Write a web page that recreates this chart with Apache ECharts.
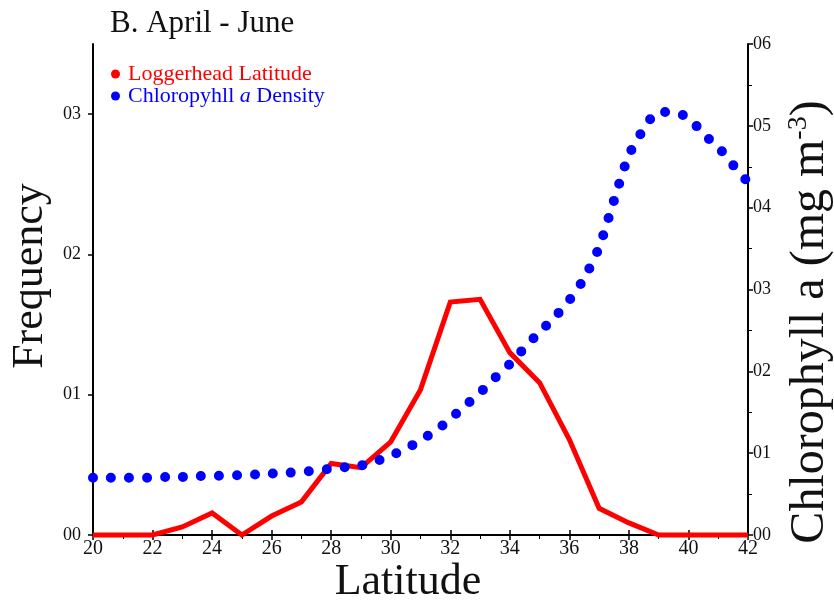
<!DOCTYPE html>
<html>
<head>
<meta charset="utf-8">
<script src="https://cdn.jsdelivr.net/npm/echarts@6/dist/echarts.min.js"></script>
<style>
  html, body { margin: 0; padding: 0; background: #fff; }
  #chart { width: 834px; height: 606px; }
</style>
</head>
<body>
<div id="chart"></div>
<script>
// Loggerhead sightings by latitude (frequency), one value per degree 20..42
const loggerLat = [20, 21, 22, 23, 24, 25, 26, 27, 28, 29, 30, 31, 32, 33, 34, 35, 36, 37, 38, 39, 40, 41, 42];
const loggerFreq = [0, 0, 0, 0.0057, 0.0157, 0, 0.0135, 0.0236, 0.051, 0.048, 0.0664, 0.1036, 0.166, 0.168, 0.130, 0.1086, 0.068, 0.019, 0.0086, 0, 0, 0, 0];

// Chlorophyll a density (mg m^-3), every half degree 20..42
const chlLat = [20, 20.5, 21, 21.5, 22, 22.5, 23, 23.5, 24, 24.5, 25, 25.5, 26, 26.5, 27, 27.5, 28, 28.5, 29, 29.5, 30, 30.5, 31, 31.5, 32, 32.5, 33, 33.5, 34, 34.5, 35, 35.5, 36, 36.5, 37, 37.5, 38, 38.5, 39, 39.5, 40, 40.5, 41, 41.5, 42];
const chlDensity = [0.0070, 0.0070, 0.0070, 0.0070, 0.0070, 0.0071, 0.0071, 0.0072, 0.0072, 0.0073, 0.0073, 0.0074, 0.0075, 0.0076, 0.0077, 0.0079, 0.0081, 0.0083, 0.0085, 0.0090, 0.0097, 0.0105, 0.0116, 0.0127, 0.0142, 0.0158, 0.0174, 0.0192, 0.0209, 0.0229, 0.0248, 0.0266, 0.0287, 0.0314, 0.0352, 0.0409, 0.0464, 0.0496, 0.0517, 0.0516, 0.0510, 0.0490, 0.0474, 0.0452, 0.0431];

// Tick labels as printed on the two value axes
const freqTickLabels = ['00', '01', '02', '03'];
const chlTickLabels = ['00', '01', '02', '03', '04', '05', '06'];

const serif = '"Liberation Serif", "DejaVu Serif", serif';
const ink = '#111';
const nameSize = 44;

const pair = (xs, ys) => xs.map((x, i) => [x, ys[i]]);

const chart = echarts.init(document.getElementById('chart'), null, { renderer: 'canvas' });

const axisLine = { show: true, lineStyle: { color: '#000', width: 2 } };

chart.setOption({
  animation: false,
  backgroundColor: '#ffffff',
  title: {
    text: 'B. April - June',
    left: 105,
    top: 3,
    textStyle: { fontFamily: serif, fontSize: 31, fontWeight: 'normal', color: ink }
  },
  // axis titles placed as free text
  graphic: [
    {
      type: 'text', x: 30, y: 276, rotation: Math.PI / 2,
      style: { text: 'Frequency', fontFamily: serif, fontSize: nameSize, fill: ink, align: 'center', verticalAlign: 'middle' }
    },
    {
      type: 'text', x: 408, y: 582,
      style: { text: 'Latitude', fontFamily: serif, fontSize: nameSize, fill: ink, align: 'center', verticalAlign: 'middle' }
    },
    {
      type: 'text', x: 810, y: 322, rotation: Math.PI / 2,
      style: {
        text: '{m|Chlorophyll a (mg m}{s|-3}{m|)}',
        align: 'center', verticalAlign: 'middle',
        rich: {
          m: { fontFamily: serif, fontSize: 48, fill: ink, color: ink },
          s: { fontFamily: serif, fontSize: 28, fill: ink, color: ink, verticalAlign: 'top', padding: [0, 0, 22, 0] }
        }
      }
    }
  ],
  legend: {
    orient: 'vertical',
    left: 106,
    top: 58,
    itemGap: 0,
    itemWidth: 9,
    itemHeight: 9,
    icon: 'circle',
    data: [
      { name: 'Loggerhead Latitude' },
      { name: 'Chloropyhll a Density' }
    ],
    formatter: function (name) {
      if (name === 'Chloropyhll a Density') {
        return '{b|Chloropyhll }{bi|a}{b| Density}';
      }
      return '{r|' + name + '}';
    },
    textStyle: {
      fontFamily: serif,
      fontSize: 22,
      padding: [0, 0, 0, 3],
      rich: {
        r: { color: '#ff0000', fontFamily: serif, fontSize: 22 },
        b: { color: '#0000ff', fontFamily: serif, fontSize: 22 },
        bi: { color: '#0000ff', fontFamily: serif, fontSize: 22, fontStyle: 'italic' }
      }
    }
  },
  grid: { left: 93, right: 86, top: 44, bottom: 71, containLabel: false, outerBoundsMode: 'none' },
  xAxis: [
    {
      type: 'value',
      position: 'bottom',
      min: 20,
      max: 42,
      interval: 2,
      axisLine: axisLine,
      axisTick: { show: true, length: 5, lineStyle: { color: '#000', width: 1.5 } },
      minorTick: { show: true, splitNumber: 2, length: 4, lineStyle: { color: '#000', width: 1 } },
      axisLabel: { fontFamily: serif, fontSize: 20, color: ink, margin: 4 },
      splitLine: { show: false }
    },
    {
      type: 'value',
      position: 'top',
      min: 20,
      max: 42,
      interval: 2,
      axisLine: axisLine,
      axisTick: { show: true, length: 5, lineStyle: { color: '#000', width: 1.5 } },
      axisLabel: { show: false },
      splitLine: { show: false }
    }
  ],
  yAxis: [
    {
      type: 'value',
      position: 'left',
      min: 0,
      max: 0.35,
      interval: 0.1,
      axisLine: axisLine,
      axisTick: { show: true, length: 5, lineStyle: { color: '#000', width: 1.5 } },
      axisLabel: {
        fontFamily: serif, fontSize: 18, color: ink, margin: 12,
        showMaxLabel: false,
        formatter: function (v) {
          const k = Math.round(v / 0.1);
          return Math.abs(v - k * 0.1) < 1e-6 && freqTickLabels[k] !== undefined ? freqTickLabels[k] : '';
        }
      },
      splitLine: { show: false }
    },
    {
      type: 'value',
      position: 'right',
      min: 0,
      max: 0.06,
      interval: 0.01,
      axisLine: axisLine,
      axisTick: { show: true, length: 5, lineStyle: { color: '#000', width: 1.5 } },
      minorTick: { show: true, splitNumber: 2, length: 4, lineStyle: { color: '#000', width: 1 } },
      axisLabel: {
        fontFamily: serif, fontSize: 18, color: ink, margin: 5,
        formatter: function (v) {
          const k = Math.round(v / 0.01);
          return chlTickLabels[k] !== undefined ? chlTickLabels[k] : '';
        }
      },
      splitLine: { show: false }
    }
  ],
  series: [
    {
      name: 'Loggerhead Latitude',
      type: 'line',
      xAxisIndex: 0,
      yAxisIndex: 0,
      data: pair(loggerLat, loggerFreq),
      showSymbol: false,
      symbol: 'circle',
      itemStyle: { color: '#ff0000' },
      lineStyle: { color: '#ff0000', width: 5, join: 'miter' },
      clip: false,
      z: 2
    },
    {
      name: 'Chloropyhll a Density',
      type: 'line',
      xAxisIndex: 0,
      yAxisIndex: 1,
      data: pair(chlLat, chlDensity),
      showSymbol: false,
      symbol: 'circle',
      smooth: 0.3,
      itemStyle: { color: '#0000ff' },
      lineStyle: { color: '#0000ff', width: 10, type: [0, 18], cap: 'round' },
      clip: false,
      z: 3
    }
  ]
});
</script>
</body>
</html>
